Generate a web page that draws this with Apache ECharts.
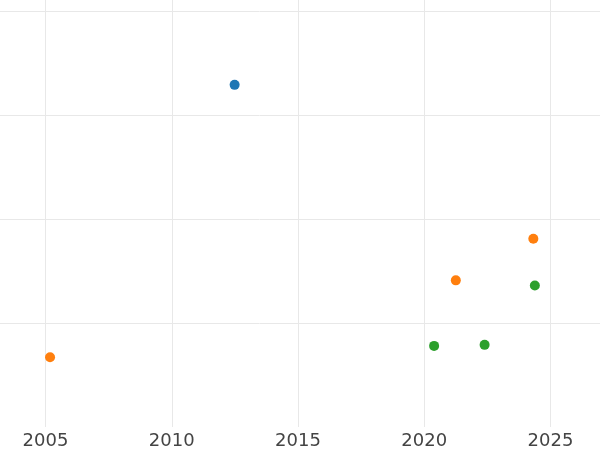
<!DOCTYPE html>
<html><head><meta charset="utf-8">
<script src="https://cdn.jsdelivr.net/npm/echarts@6/dist/echarts.min.js"></script>
<style>html,body{margin:0;padding:0;background:#fff;overflow:hidden;width:600px;height:450px;position:relative}#c{position:absolute;left:-81px;top:0;width:681px;height:450px}</style>
</head><body><div id="c"></div>
<script>
const xTicks = [2005, 2010, 2015, 2020, 2025];
const seriesNames = ['A', 'B', 'C'];
const seriesColors = ['#1f77b4', '#ff7f0e', '#2ca02c'];
const blueX = [2012.49];
const blueY = [3.29];
const orangeX = [2005.18, 2021.25, 2024.32];
const orangeY = [0.67, 1.41, 1.81];
const greenX = [2020.39, 2022.39, 2024.38];
const greenY = [0.78, 0.79, 1.36];

const xs = [blueX, orangeX, greenX];
const ys = [blueY, orangeY, greenY];
const chart = echarts.init(document.getElementById('c'));
chart.setOption({
  animation: false,
  grid: {left: 0.25, right: 0, top: 0, bottom: 23, containLabel: false},
  xAxis: {
    type: 'value', min: 2000, max: 2026.96, interval: 5,
    axisLine: {show: false}, axisTick: {show: false},
    axisLabel: {show: true, showMaxLabel: false, showMinLabel: false, color: '#444', fontSize: 18,
      fontFamily: 'DejaVu Sans', margin: 5, formatter: v => xTicks.includes(v) ? String(v) : ''},
    splitLine: {show: true, showMinLine: false, showMaxLine: false, lineStyle: {color: '#e8e8e8', width: 1}}
  },
  yAxis: {
    type: 'value', min: 0, max: 4.106, interval: 1,
    axisLine: {show: false}, axisTick: {show: false}, axisLabel: {show: false},
    splitLine: {show: true, showMinLine: false, showMaxLine: false, lineStyle: {color: '#e8e8e8', width: 1}}
  },
  series: xs.map((xa, i) => ({
    name: seriesNames[i], type: 'scatter', symbolSize: 10,
    itemStyle: {color: seriesColors[i], opacity: 1},
    data: xa.map((x, j) => [x, ys[i][j]])
  }))
});
</script></body></html>
